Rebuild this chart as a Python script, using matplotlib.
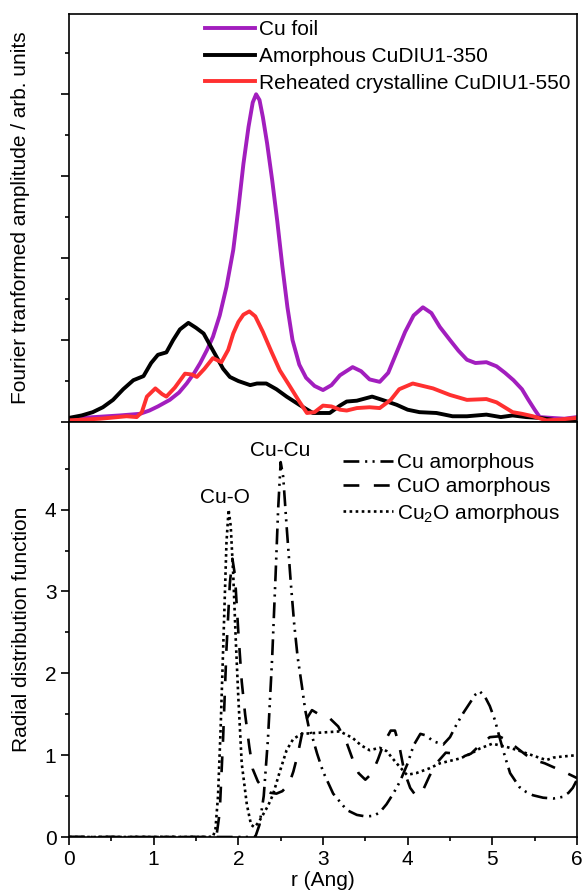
import matplotlib
matplotlib.use('Agg')
import matplotlib.pyplot as plt
from matplotlib.ticker import MultipleLocator, NullFormatter, FixedLocator

plt.rcParams['font.family'] = ['Liberation Sans', 'DejaVu Sans']
plt.rcParams['mathtext.fontset'] = 'custom'
plt.rcParams['mathtext.rm'] = 'Liberation Sans'
plt.rcParams['mathtext.default'] = 'regular'

# ---- top panel: Fourier transformed EXAFS (arb. units) ----
r_foil = [0, 0.3, 0.6, 0.84, 0.95, 1.05, 1.19, 1.3, 1.39, 1.48, 1.55, 1.63, 1.70,
          1.78, 1.86, 1.94, 2.0, 2.06, 2.12, 2.17, 2.21, 2.25, 2.29, 2.34, 2.4,
          2.46, 2.52, 2.58, 2.64, 2.72, 2.8, 2.9, 3.0, 3.1, 3.2, 3.35, 3.45, 3.55,
          3.67, 3.77, 3.87, 3.97, 4.07, 4.18, 4.28, 4.38, 4.5, 4.6, 4.7, 4.8, 4.93,
          5.05, 5.15, 5.25, 5.35, 5.42, 5.5, 5.56, 5.7, 5.85, 6.0]
cu_foil = [0.04, 0.06, 0.08, 0.1, 0.14, 0.19, 0.27, 0.36, 0.47, 0.6, 0.72, 0.88, 1.04,
           1.3, 1.65, 2.1, 2.6, 3.15, 3.6, 3.9, 4.0, 3.93, 3.72, 3.4, 2.95,
           2.45, 1.9, 1.4, 1.0, 0.7, 0.54, 0.44, 0.39, 0.45, 0.57, 0.67, 0.62, 0.52,
           0.49, 0.6, 0.85, 1.1, 1.3, 1.40, 1.33, 1.16, 1.0, 0.87, 0.76, 0.72, 0.73,
           0.68, 0.6, 0.51, 0.4, 0.28, 0.15, 0.06, 0.05, 0.04, 0.06]

r_amor = [0, 0.15, 0.28, 0.4, 0.52, 0.64, 0.76, 0.88, 0.97, 1.05, 1.15, 1.23, 1.31,
          1.41, 1.5, 1.59, 1.67, 1.74, 1.82, 1.9, 2.0, 2.14, 2.22, 2.33, 2.45,
          2.57, 2.72, 2.88, 3.08, 3.2, 3.28, 3.4, 3.58, 3.7, 3.87, 4.0, 4.14,
          4.34, 4.53, 4.7, 4.93, 5.1, 5.24, 5.4, 5.56, 5.83, 6.0]
amor_350 = [0.05, 0.08, 0.12, 0.18, 0.27, 0.4, 0.51, 0.56, 0.72, 0.82, 0.85, 1.0, 1.13,
            1.21, 1.15, 1.08, 0.93, 0.8, 0.65, 0.55, 0.5, 0.45, 0.47, 0.47, 0.4,
            0.31, 0.21, 0.11, 0.11, 0.2, 0.25, 0.26, 0.31, 0.27, 0.21, 0.15, 0.12,
            0.11, 0.07, 0.07, 0.09, 0.06, 0.08, 0.06, 0.05, 0.01, 0.04]

r_reh = [0, 0.37, 0.68, 0.8, 0.86, 0.92, 1.02, 1.1, 1.15, 1.25, 1.37, 1.45, 1.51,
         1.6, 1.70, 1.80, 1.88, 1.94, 2.0, 2.06, 2.13, 2.2, 2.29, 2.39, 2.49, 2.6,
         2.72, 2.81, 2.9, 3.0, 3.1, 3.2, 3.28, 3.4, 3.55, 3.67, 3.8, 3.9, 4.06,
         4.18, 4.3, 4.5, 4.7, 4.93, 5.05, 5.24, 5.35, 5.48, 5.64, 5.8, 6.0]
reh_550 = [0.02, 0.04, 0.07, 0.06, 0.12, 0.31, 0.41, 0.34, 0.31, 0.42, 0.59, 0.58, 0.55,
           0.65, 0.78, 0.73, 0.88, 1.08, 1.22, 1.31, 1.35, 1.29, 1.1, 0.86, 0.63, 0.45,
           0.25, 0.11, 0.12, 0.2, 0.19, 0.15, 0.14, 0.17, 0.18, 0.17, 0.27, 0.4, 0.47,
           0.44, 0.41, 0.33, 0.27, 0.28, 0.24, 0.12, 0.1, 0.07, 0.02, 0.03, 0.05]

# ---- bottom panel: radial distribution functions ----
r_cu = [0, 1.0, 2.2, 2.25, 2.3, 2.35, 2.4, 2.44, 2.47, 2.5, 2.53, 2.57, 2.62, 2.66,
        2.7, 2.75, 2.79, 2.83, 2.88, 2.93, 3.0, 3.12, 3.28, 3.4, 3.51, 3.6, 3.67,
        3.75, 3.83, 3.91, 4.0, 4.07, 4.15, 4.22, 4.3, 4.42, 4.5, 4.58, 4.66, 4.73,
        4.8, 4.85, 4.91, 4.97, 5.03, 5.09, 5.15, 5.21, 5.32, 5.4, 5.48, 5.6, 5.72,
        5.83, 5.9, 5.95, 6.0]
g_cu = [0, 0, 0, 0.15, 0.5, 1.2, 2.2, 3.2, 4.0, 4.58, 4.4, 3.8, 3.1, 2.6,
        2.2, 1.85, 1.55, 1.35, 1.2, 1.02, 0.8, 0.53, 0.33, 0.27, 0.25, 0.26, 0.3,
        0.4, 0.53, 0.68, 0.9, 1.12, 1.26, 1.24, 1.17, 1.13, 1.22, 1.38, 1.52, 1.63,
        1.74, 1.78, 1.72, 1.6, 1.43, 1.2, 0.98, 0.78, 0.61, 0.55, 0.51, 0.48, 0.47,
        0.49, 0.54, 0.6, 0.7]

r_cuo = [0, 1.0, 1.74, 1.78, 1.82, 1.86, 1.9, 1.93, 1.96, 2.0, 2.04, 2.08, 2.13,
         2.17, 2.23, 2.3, 2.38, 2.45, 2.52, 2.6, 2.65, 2.7, 2.75, 2.81, 2.87, 2.95,
         3.08, 3.18, 3.28, 3.35, 3.42, 3.5, 3.58, 3.65, 3.72, 3.8, 3.85, 3.9, 3.96,
         4.03, 4.1, 4.18, 4.26, 4.34, 4.45, 4.55, 4.65, 4.75, 4.85, 4.97, 5.08,
         5.18, 5.3, 5.4, 5.5, 5.62, 5.75, 5.88, 6.0]
g_cuo = [0, 0, 0, 0.3, 1.2, 2.3, 3.1, 3.4, 3.2, 2.5, 1.9, 1.5, 1.1,
         0.83, 0.68, 0.58, 0.54, 0.53, 0.56, 0.65, 0.8, 1.0, 1.25, 1.45, 1.55, 1.5,
         1.45, 1.35, 1.15, 0.95, 0.78, 0.7, 0.78, 0.95, 1.15, 1.3, 1.3, 1.12, 0.8,
         0.6, 0.5, 0.57, 0.75, 0.9, 1.03, 1.02, 0.98, 1.02, 1.12, 1.22, 1.23,
         1.18, 1.08, 1.0, 0.94, 0.9, 0.84, 0.78, 0.72]

r_cu2o = [0, 1.0, 1.70, 1.73, 1.76, 1.79, 1.83, 1.86, 1.885, 1.91, 1.94, 1.97, 2.0,
          2.04, 2.1, 2.15, 2.19, 2.24, 2.29, 2.35, 2.41, 2.49, 2.57, 2.65, 2.75,
          2.9, 3.04, 3.2, 3.35, 3.45, 3.55, 3.67, 3.75, 3.87, 3.99, 4.1, 4.26,
          4.38, 4.5, 4.62, 4.75, 4.85, 5.0, 5.17, 5.3, 5.41, 5.55, 5.64, 5.72,
          5.8, 6.0]
g_cu2o = [0, 0, 0, 0.1, 0.5, 1.3, 2.6, 3.6, 4.0, 3.8, 3.2, 2.4, 1.7,
          0.9, 0.4, 0.15, 0.12, 0.18, 0.27, 0.38, 0.52, 0.8, 1.06, 1.2, 1.26,
          1.27, 1.28, 1.29, 1.21, 1.12, 1.06, 1.09, 1.05, 0.9, 0.76, 0.78, 0.84,
          0.9, 0.93, 0.96, 1.02, 1.08, 1.14, 1.1, 1.06, 1.02, 0.97, 0.94, 0.97,
          0.98, 1.0]

W, H = 582, 896
fig = plt.figure(figsize=(W / 100, H / 100), dpi=100)
left, right = 69 / W, 577 / W
y_mid = 1 - 422 / H
ax1 = fig.add_axes([left, y_mid, right - left, (1 - 14 / H) - y_mid])
ax2 = fig.add_axes([left, 1 - 837 / H, right - left, y_mid - (1 - 837 / H)])

FS = 15

ax1.plot(r_foil, cu_foil, color='#A21EBE', lw=2.8, label='Cu foil')
ax1.plot(r_amor, amor_350, color='black', lw=2.8, label='Amorphous CuDIU1-350')
ax1.plot(r_reh, reh_550, color='#FF3030', lw=2.8, label='Reheated crystalline CuDIU1-550')
ax1.set_xlim(0, 6)
ax1.set_ylim(0, 4.98)
ax1.xaxis.set_major_locator(MultipleLocator(1))
ax1.xaxis.set_minor_locator(MultipleLocator(0.5))
ax1.yaxis.set_major_locator(MultipleLocator(1))
ax1.yaxis.set_minor_locator(MultipleLocator(0.5))
ax1.xaxis.set_major_formatter(NullFormatter())
ax1.yaxis.set_major_formatter(NullFormatter())
ax1.set_ylabel('Fourier tranformed amplitude / arb. units', fontsize=FS, labelpad=19)
ax1.legend(loc='upper right', frameon=False, fontsize=FS, handlelength=2.4,
           handletextpad=0.2, labelspacing=0.37, borderaxespad=0.0,
           borderpad=0.3)

ls_cu = (0, (6, 2.2, 0.8, 2, 0.8, 2.2))
ls_cuo = (0, (6, 5.5))
ls_cu2o = (0, (1, 1.3))
ax2.plot(r_cu, g_cu, color='black', lw=1.9, ls=ls_cu, label='Cu amorphous')
ax2.plot(r_cuo, g_cuo, color='black', lw=1.9, ls=ls_cuo, label='CuO amorphous')
ax2.plot(r_cu2o, g_cu2o, color='black', lw=1.9, ls=ls_cu2o, label='Cu$_2$O amorphous')
ax2.set_xlim(0, 6)
ax2.set_ylim(0, 5.07)
ax2.xaxis.set_major_locator(MultipleLocator(1))
ax2.xaxis.set_minor_locator(MultipleLocator(0.5))
ax2.yaxis.set_major_locator(FixedLocator([0, 1, 2, 3, 4]))
ax2.yaxis.set_minor_locator(FixedLocator([0.5, 1.5, 2.5, 3.5, 4.5]))
ax2.set_xlabel('r (Ang)', fontsize=FS, labelpad=2)
ax2.set_ylabel('Radial distribution function', fontsize=FS, labelpad=10)
ax2.text(1.84, 4.15, 'Cu-O', fontsize=FS, ha='center', va='center')
ax2.text(2.5, 4.72, 'Cu-Cu', fontsize=FS, ha='center', va='center')
ax2.legend(loc='upper right', bbox_to_anchor=(0.98, 0.94), frameon=False,
           fontsize=FS, handlelength=2.4, handletextpad=0.2, labelspacing=0.25,
           borderaxespad=0.0, borderpad=0.3)

for ax in (ax1, ax2):
    for sp in ax.spines.values():
        sp.set_linewidth(1.2)
    ax.tick_params(which='major', direction='out', length=5.5, width=1.2,
                   labelsize=FS, top=False, right=False)
    ax.tick_params(which='minor', direction='out', length=3, width=1.2,
                   top=False, right=False)

fig.savefig('out.png', dpi=100)
